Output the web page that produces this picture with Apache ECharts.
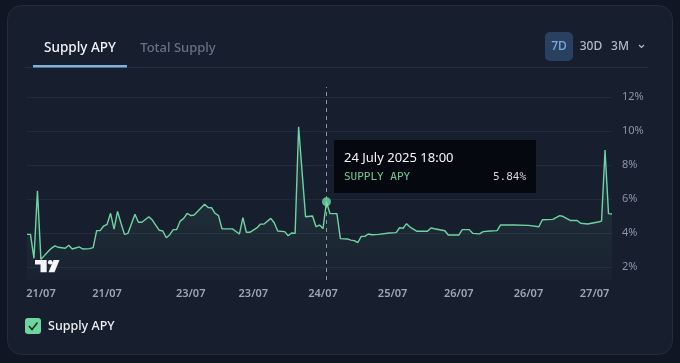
<!DOCTYPE html>
<html>
<head>
<meta charset="utf-8">
<script src="https://cdn.jsdelivr.net/npm/echarts@6/dist/echarts.min.js"></script>
<style>
html,body{margin:0;padding:0;background:#111625;}
#c{width:680px;height:363px;}
</style>
</head>
<body>
<div id="c"></div>
<script>
// ---- data (hours since 21 Jul 2025 04:00, Supply APY %) ----
const hours = [0,1,2,3,4,6,7,8,9,11,12,13,15,16,18,19,20,21,22,23,24,25,26,27,28,29,31,32,33,35,36,38,39,40,41,42,43,44,45,46,47,48,51,52,53,54,55,56,59,61,62,63,64,66,67,68,70,71,72,74,75,76,77,78,80,82,83,84,85,86,87,89,90,92,93,94,95,96,97,98,99,101,104,106,107,108,109,110,112,115,116,117,120,121,124,125,127,128,130,131,133,135,136,140,144,147,148,151,153,154,156,158,159,161,164,165,166,167,168];
const apy   = [3.92,3.92,2.51,6.49,2.45,2.9,3.1,3.24,3.16,3.1,3.28,3.06,3.18,3.06,3.08,3.14,4.14,4.14,4.41,4.51,5.16,4.23,5.27,4.57,3.92,3.98,5.1,4.63,4.63,4.96,4.76,4.16,4.12,3.72,3.9,4.2,4.2,4.7,4.86,5.16,5.03,5.06,5.69,5.5,5.49,5.16,5.02,4.24,4.24,3.94,4.9,4.04,4.04,4.3,4.52,4.52,4.86,4.6,4.12,4.08,3.84,4.0,3.98,10.25,4.96,5.0,4.37,4.47,4.26,5.84,5.14,5.14,3.67,3.65,3.58,3.55,3.44,3.8,3.8,3.94,3.9,3.92,4.0,4.02,4.31,4.28,4.55,4.35,4.1,4.1,4.3,4.25,4.13,3.88,3.88,4.2,4.2,3.98,3.95,4.08,4.12,4.14,4.48,4.47,4.45,4.37,4.78,4.8,5.02,4.97,4.74,4.74,4.57,4.53,4.65,4.7,8.88,5.14,5.12];
const xTickHours  = [4,23,47,65,85,105,124,144,163];
const xTickLabels = ['21/07','21/07','23/07','23/07','24/07','25/07','26/07','26/07','27/07'];
const yTicks = [2,4,6,8,10,12];
const hoverHour = 86;
const hoverValue = 5.84;
const hoverTitle = '24 July 2025 18:00';
const seriesName = 'Supply APY';

const lineData = hours.map((h,i)=>[h, apy[i]]);
const labelMap = {};
xTickHours.forEach((h,i)=>labelMap[h]=xTickLabels[i]);

const chart = echarts.init(document.getElementById('c'), null, {renderer:'canvas'});
const FONT = 'Noto Sans';
const MONO = 'DejaVu Sans Mono';
const GREEN = '#70d4a2';

chart.setOption({
  backgroundColor: '#111625',
  animation: false,
  grid: {left: 27, right: 68, top: 87, bottom: 83},
  xAxis: {
    type: 'value', min: 0, max: 168,
    axisLine: {show: false}, axisTick: {show: false}, splitLine: {show: false},
    axisLabel: {
      customValues: xTickHours,
      formatter: v => labelMap[v] || '',
      color: '#9ea6b6', fontSize: 11, fontWeight: 600, fontFamily: FONT, margin: 8
    }
  },
  yAxis: {
    type: 'value', position: 'right', min: 1.235, max: 12.59,
    axisLine: {show: false}, axisTick: {show: false}, splitLine: {show: false},
    axisLabel: {
      customValues: yTicks,
      formatter: v => v + '%',
      color: '#8c94a6', fontSize: 11, fontFamily: FONT, margin: 10, align: 'left'
    }
  },
  series: [
    {
      type: 'line', name: seriesName, data: lineData, showSymbol: false,
      lineStyle: {color: GREEN, width: 1.4},
      areaStyle: {
        color: new echarts.graphic.LinearGradient(0,0,0,1,[
          {offset:0, color:'rgba(110,210,160,0.22)'},
          {offset:1, color:'rgba(110,210,160,0.03)'}
        ])
      },
      markLine: {
        silent: true, symbol: ['none','none'], label: {show: false},
        lineStyle: {color: '#222b3c', type: 'solid', width: 1},
        data: yTicks.map(v => ({yAxis: v})).concat([
          {xAxis: hoverHour, lineStyle: {color: '#8a92a3', type: [4,4], width: 1}}
        ]),
        z: 1
      },
      z: 3
    },
    {
      type: 'scatter', data: [[hoverHour, hoverValue]], symbolSize: 9,
      itemStyle: {color: '#74dca7'}, z: 5
    }
  ],
  graphic: [
    {type:'rect', z:-10, shape:{x:7.5,y:5.5,width:665,height:349,r:14}, style:{fill:'#171e2e', stroke:'#242c3c', lineWidth:1}},
    // tabs
    {type:'text', z:10, style:{x:80, y:48, text:'Supply APY', fill:'#f2f4f8', font:'500 13.5px "'+FONT+'"', align:'center', verticalAlign:'middle'}},
    {type:'text', z:10, style:{x:178, y:48, text:'Total Supply', fill:'#687185', font:'500 13px "'+FONT+'"', align:'center', verticalAlign:'middle'}},
    {type:'rect', z:10, shape:{x:25,y:67,width:623,height:1}, style:{fill:'#242d3d'}},
    {type:'rect', z:11, shape:{x:33,y:65,width:94,height:2.5}, style:{fill:'#7fb2df'}},
    // range buttons
    {type:'rect', z:10, shape:{x:545,y:32,width:28,height:29,r:5}, style:{fill:'#2a4060'}},
    {type:'text', z:11, style:{x:559, y:47, text:'7D', fill:'#78ace0', font:'500 12px "'+FONT+'"', align:'center', verticalAlign:'middle'}},
    {type:'text', z:11, style:{x:591, y:47, text:'30D', fill:'#b3bac8', font:'500 12px "'+FONT+'"', align:'center', verticalAlign:'middle'}},
    {type:'text', z:11, style:{x:620, y:47, text:'3M', fill:'#b3bac8', font:'500 12px "'+FONT+'"', align:'center', verticalAlign:'middle'}},
    {type:'polyline', z:11, shape:{points:[[639,45],[641.5,47.5],[644,45]]}, style:{stroke:'#b3bac8', lineWidth:1.2, fill:null}},
    // tooltip
    {type:'rect', z:50, shape:{x:334,y:140,width:202,height:53}, style:{fill:'#05080f'}},
    {type:'text', z:51, style:{x:344, y:158, text:hoverTitle, fill:'#f4f5f8', font:'13px "'+FONT+'"', verticalAlign:'middle'}},
    {type:'text', z:51, style:{x:344, y:177, text:seriesName.toUpperCase(), fill:'#6ecb9c', font:'11px "'+MONO+'"', verticalAlign:'middle'}},
    {type:'text', z:51, style:{x:526, y:177, text:hoverValue.toFixed(2)+'%', fill:'#d2d6de', font:'11px "'+MONO+'"', align:'right', verticalAlign:'middle'}},
    // TradingView logo
    {type:'polygon', z:20, shape:{points:[[35,260],[46.7,260],[46.7,272.3],[40.5,272.3],[40.5,264.5],[35,264.5]]}, style:{fill:'#f4f5f7'}},
    {type:'circle', z:20, shape:{cx:50.2,cy:262.3,r:2.3}, style:{fill:'#f4f5f7'}},
    {type:'polygon', z:20, shape:{points:[[53.5,260],[59.5,260],[54.5,272.3],[48.5,272.3]]}, style:{fill:'#f4f5f7'}},
    // legend
    {type:'rect', z:10, shape:{x:25,y:318,width:16,height:16,r:3}, style:{fill:'#6fd4a0'}},
    {type:'polyline', z:11, shape:{points:[[29,326],[32,329.5],[37.5,322.5]]}, style:{stroke:'#10301f', lineWidth:1.5, fill:null}},
    {type:'text', z:10, style:{x:48, y:326.5, text:seriesName, fill:'#eef0f4', font:'500 12.5px "'+FONT+'"', verticalAlign:'middle'}}
  ]
});
</script>
</body>
</html>
